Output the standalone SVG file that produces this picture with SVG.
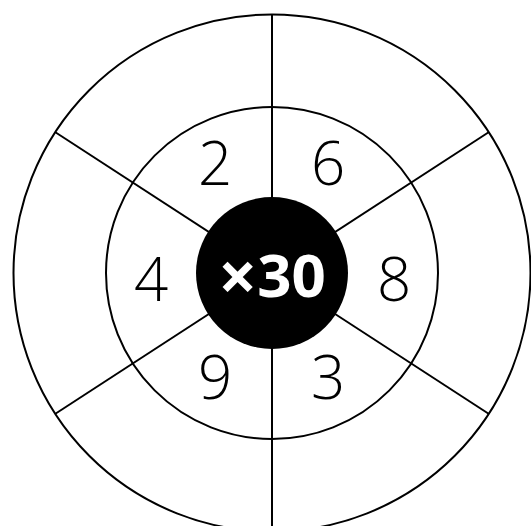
<svg xmlns="http://www.w3.org/2000/svg" width="531" height="526" viewBox="0 0 531 526">
<style>
.ring{fill:none;stroke:#000;stroke-width:2}
.sp{stroke:#000;stroke-width:2}
.num{font-family:"Open Sans","Noto Sans",sans-serif;font-weight:300;font-size:60px;fill:#000;text-anchor:middle}
.ctr{font-family:"Noto Sans","Liberation Sans",sans-serif;font-weight:700;font-size:60px;fill:#fff;text-anchor:middle}
</style>
<rect width="531" height="526" fill="#fff"/>
<g id="outer-ring"><circle class="ring" cx="272" cy="273" r="258.5"/></g>
<g id="inner-ring"><circle class="ring" cx="272" cy="273" r="166"/></g>
<g id="connectors">
<line class="sp" x1="272" y1="273" x2="272" y2="14"/>
<line class="sp" x1="272" y1="273" x2="272" y2="532"/>
<line class="sp" x1="272" y1="273" x2="55" y2="132"/>
<line class="sp" x1="272" y1="273" x2="489" y2="132"/>
<line class="sp" x1="272" y1="273" x2="55" y2="414"/>
<line class="sp" x1="272" y1="273" x2="489" y2="414"/>
</g>
<g id="center"><circle cx="272" cy="273" r="76" fill="#000"/><text class="ctr" x="272" y="297"><tspan font-size="68" dy="4">×</tspan><tspan dy="-4">30</tspan></text></g>
<g id="n2"><text class="num" x="215" y="185">2</text></g>
<g id="n6"><text class="num" x="328" y="185">6</text></g>
<g id="n4"><text class="num" x="151" y="301">4</text></g>
<g id="n8"><text class="num" x="394" y="301">8</text></g>
<g id="n9"><text class="num" x="215" y="399">9</text></g>
<g id="n3"><text class="num" x="328" y="399">3</text></g>
</svg>
